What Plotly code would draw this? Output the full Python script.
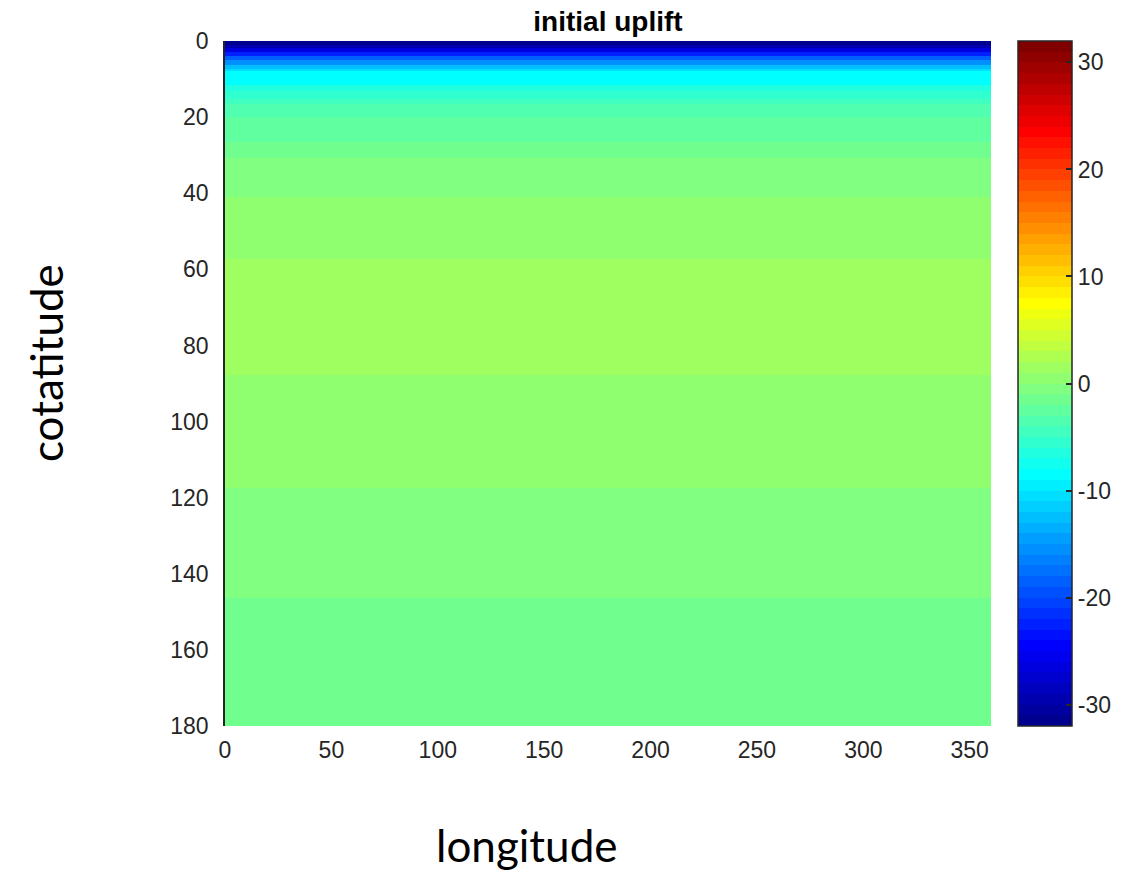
import numpy as np
import plotly.graph_objects as go

# Data: uplift is constant in longitude, banded in cotatitude
longitude_edges = [0, 360]
cotatitude_edges = [0, 1.05, 1.84, 2.89, 3.94, 4.99, 6.31, 7.36, 7.88, 11.56, 13.14,
                    15.24, 16.55, 19.97, 26.54, 30.74, 40.99, 57.28, 87.77, 117.46,
                    146.37, 180]
uplift_values = [-31.6, -29.5, -26.4, -22.6, -18.5, -15.4, -12.6, -10.4, -8.5, -6.5,
                 -5.4, -4.5, -3.5, -2.5, -1.5, -0.5, 0.6, 1.5, 0.5, -0.4, -1.4]
x_ticks = [0, 50, 100, 150, 200, 250, 300, 350]
y_ticks = [0, 20, 40, 60, 80, 100, 120, 140, 160, 180]
cbar_ticks = [-30, -20, -10, 0, 10, 20, 30]
cbar_ticktext = ["-30", "-20", "-10", "0", "10", "20", "30"]
zmin, zmax = -32, 32

W, H = 1122, 873
L, R, T, B = 225, 991, 41, 726  # plot area in pixels
TICKFONT = dict(family="Liberation Sans, Arial", size=23, color="#262626")


def jet(m=64):
    n = int(np.ceil(m / 4))
    u = np.concatenate([np.arange(1, n + 1) / n, np.ones(n - 1), np.arange(n, 0, -1) / n])
    g = int(np.ceil(n / 2)) - (1 if m % 4 == 1 else 0) + np.arange(1, len(u) + 1)
    r = g + n
    b = g - n
    J = np.zeros((m, 3))
    for idx, val in zip(r, u):
        if 1 <= idx <= m:
            J[idx - 1, 0] = val
    for idx, val in zip(g, u):
        if 1 <= idx <= m:
            J[idx - 1, 1] = val
    for idx, val in zip(b, u):
        if 1 <= idx <= m:
            J[idx - 1, 2] = val
    return J


J = jet(64)
colorscale = []
for i, c in enumerate(J):
    col = "rgb(%d,%d,%d)" % tuple(int(round(v * 255)) for v in c)
    colorscale.append([i / 64, col])
    colorscale.append([(i + 1) / 64, col])

z = [[v] for v in uplift_values]


def px_x(p):
    return (p - L) / (R - L)


def px_y(p):
    return (B - p) / (B - T)


fig = go.Figure(go.Heatmap(
    x=longitude_edges,
    y=cotatitude_edges,
    z=z,
    zmin=zmin, zmax=zmax,
    colorscale=colorscale,
    colorbar=dict(
        x=px_x(1018), xanchor="left", xpad=0, ypad=0,
        y=0.5, yanchor="middle", len=1, lenmode="fraction",
        thickness=54, thicknessmode="pixels",
        outlinewidth=1.5, outlinecolor="#262626",
        tickvals=cbar_ticks, ticktext=cbar_ticktext,
        ticks="inside", ticklen=6, tickwidth=1.5,
        tickcolor="#262626",
        tickfont=TICKFONT,
    ),
    hoverinfo="skip",
))

fig.update_layout(
    width=W, height=H,
    margin=dict(l=L, r=W - R, t=T, b=H - B, autoexpand=False),
    paper_bgcolor="white", plot_bgcolor="white",
    title=dict(text="<b>initial uplift</b>", x=608 / W, xanchor="center",
               y=1 - 21 / H, yanchor="middle",
               font=dict(family="Liberation Sans, Arial", size=28, color="black")),
    xaxis=dict(range=[0, 360], tickvals=x_ticks, showgrid=False, zeroline=False,
               showline=False, ticks="", ticklabelstandoff=8,
               tickfont=TICKFONT),
    yaxis=dict(range=[180, 0], tickvals=y_ticks, showgrid=False, zeroline=False,
               showline=True, linecolor="#262626", linewidth=1.5, ticks="",
               ticklabelstandoff=10,
               tickfont=TICKFONT),
    annotations=[
        dict(text="cotatitude", x=px_x(46), y=px_y(363), xref="paper", yref="paper",
             xanchor="center", yanchor="middle", textangle=-90, showarrow=False,
             font=dict(family="Lato", size=44, color="black")),
        dict(text="longitude", x=px_x(527), y=px_y(845), xref="paper", yref="paper",
             xanchor="center", yanchor="middle", showarrow=False,
             font=dict(family="Lato", size=44, color="black")),
    ],
)

fig.write_html("out.html")
